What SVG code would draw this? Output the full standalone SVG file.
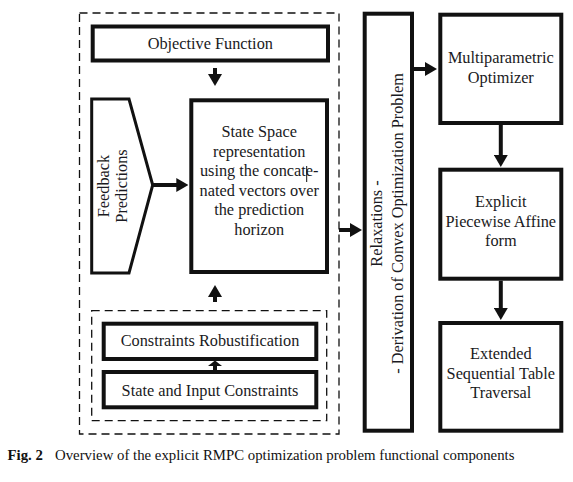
<svg xmlns="http://www.w3.org/2000/svg" width="573" height="482" viewBox="0 0 573 482">
<style>
.box{fill:#fff;stroke:#111;stroke-width:4}
.dash{fill:none;stroke:#111;stroke-width:1.3;stroke-dasharray:8 5}
.t{font-family:"Liberation Serif","Times New Roman",serif;font-size:16.3px;fill:#1a1a22;text-anchor:middle}
.cap{font-family:"Liberation Serif","Times New Roman",serif;font-size:14.8px;fill:#111}
.conn{stroke:#111;stroke-width:4;fill:none;marker-end:url(#ah)}
</style>
<defs>
<marker id="ah" markerUnits="userSpaceOnUse" markerWidth="12" markerHeight="14" refX="8" refY="7" orient="auto">
<path d="M0,0 L12,7 L0,14 z" fill="#111"/>
</marker>
</defs>
<rect width="573" height="482" fill="#fff"/>
<g id="outer-group"><rect class="dash" x="79.5" y="13" width="259.5" height="421"/></g>
<g id="constraints-group"><rect class="dash" x="91.7" y="310.7" width="235" height="110"/></g>
<g id="objective"><rect class="box" x="92.7" y="26.5" width="235.3" height="34"/><text class="t" x="210.3" y="49">Objective Function</text></g>
<g id="feedback"><path d="M91.7,99 L129,99 L152.7,185 L129,273 L91.7,273 Z" fill="#fff" stroke="#111" stroke-width="3" stroke-linejoin="miter"/>
<text class="t" transform="translate(108.5,186) rotate(-90)">Feedback</text>
<text class="t" transform="translate(127,186) rotate(-90)">Predictions</text></g>
<g id="statespace"><rect class="box" x="191.3" y="100.3" width="135.7" height="171.7"/>
<text class="t" x="259.2" y="137">State Space</text>
<text class="t" x="259.2" y="156.5">representation</text>
<text class="t" x="259.2" y="176">using the concate-</text>
<text class="t" x="259.2" y="195.5">nated vectors over</text>
<text class="t" x="259.2" y="215">the prediction</text>
<text class="t" x="259.2" y="234.5">horizon</text>
<line x1="306.7" y1="166" x2="306.7" y2="182" stroke="#111" stroke-width="1"/></g>
<g id="robust"><rect class="box" x="103.7" y="323.7" width="212.6" height="35.3"/><text class="t" x="210" y="346">Constraints Robustification</text></g>
<g id="stateinput"><rect class="box" x="103.7" y="372" width="212.6" height="35.3"/><text class="t" x="210" y="396">State and Input Constraints</text></g>
<g id="relax"><rect class="box" x="364.7" y="13.7" width="47.3" height="417"/>
<text class="t" transform="translate(382.3,223.5) rotate(-90)">Relaxations -</text>
<text class="t" transform="translate(402.5,223.5) rotate(-90)">- Derivation of Convex Optimization Problem</text></g>
<g id="multi"><rect class="box" x="440.3" y="14.7" width="121" height="108.3"/>
<text class="t" x="500.8" y="63.3">Multiparametric</text><text class="t" x="500.8" y="82.8">Optimizer</text></g>
<g id="explicit"><rect class="box" x="440.3" y="169.7" width="121" height="109"/>
<text class="t" x="500.8" y="207">Explicit</text><text class="t" x="500.8" y="226.5">Piecewise Affine</text><text class="t" x="500.8" y="246">form</text></g>
<g id="extended"><rect class="box" x="440.3" y="323" width="121" height="107.7"/>
<text class="t" x="500.8" y="359">Extended</text><text class="t" x="500.8" y="378.5">Sequential Table</text><text class="t" x="500.8" y="398">Traversal</text></g>
<g id="connectors">
<path class="conn" d="M215,68 L215,82"/>
<path class="conn" d="M152.7,185 L184.3,185"/>
<path class="conn" d="M215,302 L215,289"/>
<path class="conn" d="M215,370 L215,365" style="marker-end:none"/>
<path d="M208,366 L215,360.5 L222,366 Z" fill="#111"/>
<path class="conn" d="M339,230 L358,230"/>
<path class="conn" d="M414,69 L433,69"/>
<path class="conn" d="M500.8,125 L500.8,163"/>
<path class="conn" d="M500.8,280.7 L500.8,316"/>
</g>
<text class="cap" x="7.5" y="460" font-weight="bold" font-size="13.8">Fig. 2</text>
<text class="cap" x="55" y="460">Overview of the explicit RMPC optimization problem functional components</text>
</svg>
